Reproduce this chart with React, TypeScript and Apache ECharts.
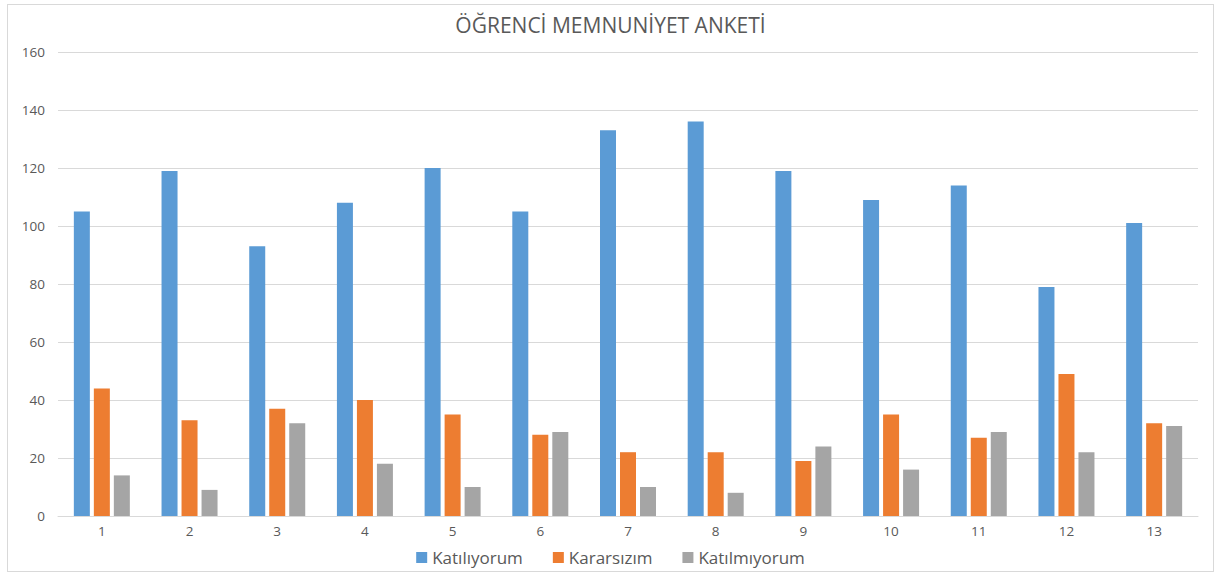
import React, { useEffect, useRef } from "react";
import * as echarts from "echarts";

const categories = ["1", "2", "3", "4", "5", "6", "7", "8", "9", "10", "11", "12", "13"];
const katiliyorum = [105, 119, 93, 108, 120, 105, 133, 136, 119, 109, 114, 79, 101];
const kararsizim = [44, 33, 37, 40, 35, 28, 22, 22, 19, 35, 27, 49, 32];
const katilmiyorum = [14, 9, 32, 18, 10, 29, 10, 8, 24, 16, 29, 22, 31];
const seriesNames = ["Katılıyorum", "Kararsızım", "Katılmıyorum"];
const colors = ["#5B9BD5", "#ED7D31", "#A5A5A5"];
const titleText = "ÖĞRENCİ MEMNUNİYET ANKETİ";

const FONT = "'Open Sans', 'Noto Sans', sans-serif";

export default function App() {
  const ref = useRef<HTMLDivElement>(null);
  useEffect(() => {
    if (!ref.current) return;
    const chart = echarts.init(ref.current, undefined, { renderer: "svg" });
    const data = [katiliyorum, kararsizim, katilmiyorum];
    chart.setOption({
      animation: false,
      color: colors,
      title: {
        text: titleText,
        left: "center",
        top: 4,
        textStyle: { fontFamily: FONT, fontSize: 21, fontWeight: "normal", color: "#595959" },
      },
      legend: {
        bottom: 0,
        left: "center",
        itemWidth: 11,
        itemHeight: 11,
        itemGap: 30,
        itemStyle: { borderWidth: 0 },
        icon: "rect",
        textStyle: { fontFamily: FONT, fontSize: 17, color: "#595959" },
        data: seriesNames,
      },
      grid: { left: 50, right: 15, top: 47, bottom: 55, containLabel: false },
      xAxis: {
        type: "category",
        data: categories,
        axisLine: { lineStyle: { color: "#D9D9D9" } },
        axisTick: { show: false },
        axisLabel: { fontFamily: FONT, fontSize: 13.5, color: "#595959", margin: 8 },
      },
      yAxis: {
        type: "value",
        min: 0,
        max: 160,
        interval: 20,
        axisLine: { show: false },
        axisTick: { show: false },
        axisLabel: { fontFamily: FONT, fontSize: 13.5, color: "#595959", margin: 13 },
        splitLine: { lineStyle: { color: "#D9D9D9", width: 1 } },
      },
      series: seriesNames.map((name, i) => ({
        name,
        type: "bar",
        data: data[i],
        barWidth: 16,
        barGap: "25%",
        itemStyle: { color: colors[i] },
      })),
    });
    return () => chart.dispose();
  }, []);
  return (
    <div
      style={{
        position: "absolute",
        left: 7,
        top: 4,
        width: 1207,
        height: 568,
        border: "1px solid #D9D9D9",
        boxSizing: "border-box",
        background: "#fff",
      }}
    >
      <div ref={ref} style={{ width: 1205, height: 566 }} />
    </div>
  );
}
